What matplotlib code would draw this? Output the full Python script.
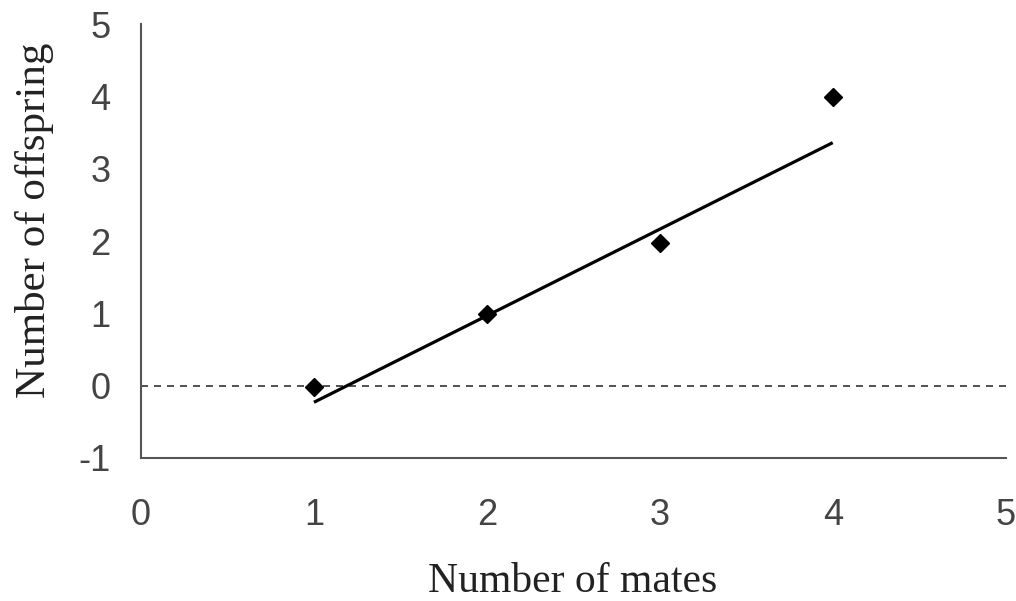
import numpy as np
import matplotlib
matplotlib.use('Agg')
import matplotlib.pyplot as plt

plt.rcParams['axes.unicode_minus'] = False

# data
mates = [1, 2, 3, 4]
offspring = [-0.02, 0.99, 1.97, 3.99]
# fitted line end points
fit_x = [1.0, 4.0]
fit_y = [-0.23, 3.36]

xticks = [0, 1, 2, 3, 4, 5]
yticks = [-1, 0, 1, 2, 3, 4, 5]

fig = plt.figure(figsize=(10.16, 6.01), dpi=100)
ax = fig.add_axes([0.1388, 0.238, 0.851, 0.722])

# zero reference line
ax.axhline(0, color='#333333', lw=1.2, linestyle=(0, (4.2, 3.6)), zorder=1)
ax.plot(fit_x, fit_y, color='black', lw=2.3, solid_capstyle='butt', zorder=2)
ax.plot(mates, offspring, linestyle='none', marker='D', ms=9.5, color='black', zorder=3)

ax.set_xlim(0, 5)
ax.set_ylim(-1, 5)
ax.set_xticks(xticks)
ax.set_yticks(yticks)
ax.tick_params(length=0, labelsize=26, labelcolor='#444444')
ax.tick_params(axis='x', pad=29)
ax.tick_params(axis='y', pad=22)
for lab in ax.get_xticklabels() + ax.get_yticklabels():
    lab.set_family('Liberation Sans')

for side in ['top', 'right']:
    ax.spines[side].set_visible(False)
for side in ['left', 'bottom']:
    ax.spines[side].set_color('#555555')
    ax.spines[side].set_linewidth(1.5)

ax.set_xlabel('Number of mates', family='Liberation Serif', fontsize=30, color='#222222')
ax.set_ylabel('Number of offspring', family='Liberation Serif', fontsize=31, color='#222222')
ax.xaxis.set_label_coords((572 - 141) / 864, (458 - 582) / 434)
ax.yaxis.set_label_coords((35 - 141) / 864, (458 - 220) / 434)
ax.xaxis.label.set_va('center')
ax.yaxis.label.set_va('center')

fig.savefig('out.png', dpi=100)
